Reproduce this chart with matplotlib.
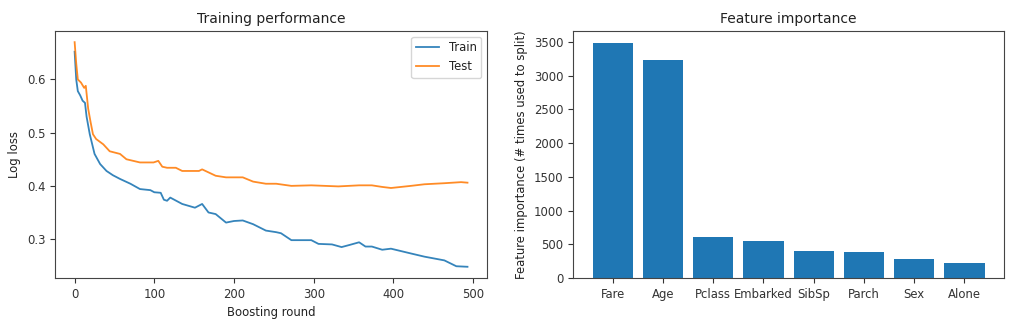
import matplotlib
matplotlib.use("Agg")
import matplotlib.pyplot as plt

# Log loss per boosting round
train_rounds = [0, 2, 4, 7, 10, 13, 15, 19, 25, 32, 40, 48, 57, 70, 82, 95, 100, 108, 112,
                116, 120, 135, 151, 160, 168, 177, 190, 200, 211, 224, 240, 253, 259, 272,
                297, 306, 323, 335, 345, 357, 365, 373, 386, 397, 422, 439, 464, 479, 493]
train_loss = [0.652, 0.600, 0.578, 0.570, 0.560, 0.556, 0.530, 0.497, 0.460, 0.441, 0.428,
              0.420, 0.413, 0.404, 0.394, 0.392, 0.388, 0.387, 0.374, 0.372, 0.378, 0.366,
              0.359, 0.366, 0.350, 0.347, 0.331, 0.334, 0.335, 0.328, 0.316, 0.313, 0.311,
              0.298, 0.298, 0.291, 0.290, 0.285, 0.289, 0.294, 0.286, 0.286, 0.280, 0.282,
              0.273, 0.267, 0.260, 0.249, 0.248]

test_rounds = [0, 2, 4, 8, 12, 14, 17, 20, 23, 27, 36, 44, 57, 65, 82, 99, 105, 110, 116,
               127, 135, 156, 160, 177, 190, 211, 224, 240, 253, 272, 297, 331, 357, 373,
               386, 397, 422, 439, 464, 485, 493]
test_loss = [0.670, 0.630, 0.600, 0.594, 0.584, 0.588, 0.545, 0.520, 0.497, 0.488, 0.478,
             0.465, 0.460, 0.450, 0.444, 0.444, 0.447, 0.436, 0.434, 0.434, 0.428, 0.428,
             0.431, 0.419, 0.416, 0.416, 0.408, 0.404, 0.404, 0.400, 0.401, 0.399, 0.401,
             0.401, 0.398, 0.396, 0.400, 0.403, 0.405, 0.407, 0.406]

# Feature importance (# times used to split)
features = ["Fare", "Age", "Pclass", "Embarked", "SibSp", "Parch", "Sex", "Alone"]
importance = [3490, 3240, 605, 556, 407, 387, 288, 219]

plt.rcParams["font.size"] = 8.4
plt.rcParams["axes.titlesize"] = 10
plt.rcParams["axes.edgecolor"] = "#444444"
plt.rcParams["axes.linewidth"] = 0.8
plt.rcParams["xtick.color"] = "#333333"
plt.rcParams["ytick.color"] = "#333333"
plt.rcParams["text.color"] = "#222222"
plt.rcParams["axes.labelcolor"] = "#222222"

fig = plt.figure(figsize=(10.24, 3.29), dpi=100)
ax1 = fig.add_axes([0.0537, 0.155, 0.422, 0.751])
ax2 = fig.add_axes([0.5596, 0.155, 0.421, 0.751])

ax1.plot(train_rounds, train_loss, label="Train", lw=1.3, alpha=0.9)
ax1.plot(test_rounds, test_loss, label="Test", lw=1.3, alpha=0.9)
ax1.set_title("Training performance")
ax1.set_xlabel("Boosting round")
ax1.set_ylabel("Log loss")
ax1.set_yticks([0.3, 0.4, 0.5, 0.6])
ax1.legend(loc="upper right")

ax2.bar(range(len(features)), importance)
ax2.set_xticks(range(len(features)))
ax2.set_xticklabels(features)
ax2.set_title("Feature importance")
ax2.set_ylabel("Feature importance (# times used to split)")

fig.savefig("out.png", dpi=100)
